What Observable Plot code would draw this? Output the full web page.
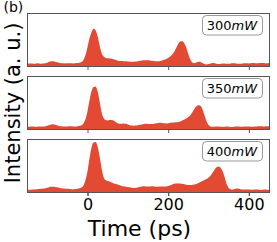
<!DOCTYPE html>
<html>
<head>
<meta charset="utf-8">
<script src="https://cdn.jsdelivr.net/npm/d3@7"></script>
<script src="https://cdn.jsdelivr.net/npm/@observablehq/plot@0.6"></script>
<style>
  html, body { margin: 0; padding: 0; background: white; }
  #chart { width: 277px; height: 242px; overflow: hidden; }
</style>
</head>
<body>
<div id="chart"></div>
<script>
// Sampling grid of the traces (ps)
const time = d3.range(-150, 451, 5);

// Panel labels (pump power, mW)
const powers = ["300", "350", "400"];

// Axis ticks
const xTicks = [0, 200, 400];

// Intensity traces (a. u.), one value per time sample
const trace300 = [
  2.5, 2.6, 2.4, 2.2, 2.3, 2.7, 2.6, 2.3, 2.4, 2.8,
  3.4, 4.2, 4.8, 4.9, 4.4, 3.7, 3.2, 2.9, 2.7, 2.6,
  2.8, 2.9, 2.7, 2.6, 2.8, 3.0, 3.3, 4.0, 6, 11,
  19, 28, 34, 37.5, 36, 30, 21, 13, 9.5, 8.2,
  7.8, 7.6, 7.4, 6.8, 6.0, 5.4, 5.1, 5.0, 4.9, 4.7,
  4.5, 4.4, 4.3, 4.4, 4.5, 4.8, 5.2, 5.6, 5.8, 5.9,
  5.8, 5.6, 5.3, 5.0, 4.8, 4.8, 5.1, 5.6, 6.2, 7,
  8, 9.5, 11.5, 14.5, 18.5, 22.5, 24.8, 25, 23, 18.5,
  12, 6.5, 3.5, 2.8, 3.5, 4.2, 4.0, 3.0, 2.0, 1.6,
  2.0, 2.6, 3.0, 2.8, 2.3, 2.0, 2.2, 2.6, 2.5, 2.2,
  2.3, 2.6, 2.9, 2.7, 2.4, 2.2, 2.3, 2.6, 2.8, 2.7,
  2.6, 2.8, 3.0, 2.9, 2.7, 2.8, 3.0, 3.1, 2.9, 2.8,
  3.0
];
const trace350 = [
  2.3, 2.2, 2.4, 2.5, 2.3, 2.2, 2.4, 2.6, 2.5, 2.7,
  3.2, 4.0, 4.6, 4.8, 4.3, 3.6, 3.0, 2.7, 2.6, 2.5,
  2.6, 2.8, 2.7, 2.5, 2.6, 2.9, 3.2, 3.8, 5.5, 10,
  18, 29, 38, 42.5, 43, 38, 28, 17, 11, 9,
  8.6, 9, 9.2, 8.5, 7, 5.8, 5.2, 5.4, 5.6, 5.2,
  4.5, 3.8, 3.5, 3.4, 3.5, 3.8, 4.2, 4.6, 5.0, 5.2,
  5.1, 5.0, 5.1, 5.4, 5.8, 6.1, 6.2, 6.0, 5.7, 5.6,
  5.8, 6.2, 6.5, 6.6, 6.7, 7.0, 7.6, 8.5, 9.5, 10.5,
  12, 14, 17, 20.5, 23, 24, 23.5, 20, 14, 8,
  4, 2.6, 2.2, 2.3, 2.5, 2.4, 2.2, 2.1, 2.3, 2.4,
  2.2, 2.0, 2.1, 2.3, 2.5, 2.4, 2.2, 2.3, 2.5, 2.6,
  2.5, 2.3, 2.2, 2.4, 2.6, 2.8, 2.7, 2.5, 2.6, 2.7,
  2.6
];
const trace400 = [
  2.0, 2.2, 2.3, 2.4, 2.6, 2.8, 3.0, 3.2, 3.5, 3.9,
  4.4, 4.9, 5.2, 5.3, 5.1, 4.7, 4.2, 3.8, 3.5, 3.3,
  3.2, 3.0, 2.9, 2.9, 3.1, 3.4, 3.8, 4.5, 6.5, 12,
  21, 34, 45, 50, 50.5, 46, 36, 24, 15, 12,
  11, 10.5, 9.5, 8.5, 8, 7.5, 6.8, 6, 5.6, 5.4,
  5.1, 4.7, 4.2, 4.0, 4.2, 4.6, 5.2, 5.6, 5.7, 5.6,
  5.5, 5.6, 5.7, 5.6, 5.4, 5.4, 5.5, 5.6, 5.5, 5.6,
  6.0, 6.8, 7.6, 8.3, 8.6, 8.7, 8.6, 8.3, 7.8, 7.3,
  7.0, 7.0, 7.2, 7.6, 8.2, 9.0, 10, 11, 12, 13,
  14.5, 16.5, 19.5, 22.5, 25, 25.7, 24.5, 21, 15, 8,
  4, 2.8, 2.6, 3.0, 3.5, 3.4, 2.8, 2.4, 2.5, 2.6,
  2.4, 2.2, 2.3, 2.5, 2.4, 2.2, 2.1, 2.3, 2.4, 2.3,
  2.2
];

const traces = [trace300, trace350, trace400];
const rows = [];
powers.forEach((p, k) => {
  traces[k].forEach((v, i) => rows.push({panel: p, t: time[i], v}));
});

const chart = Plot.plot({
  width: 277,
  height: 242,
  marginLeft: 27,
  marginRight: 8,
  marginTop: 12,
  marginBottom: 49,
  style: {fontFamily: "DejaVu Sans", fontSize: "16px", color: "black", background: "white"},
  x: {domain: [-150, 450]},
  y: {domain: [0, 53.5], axis: null},
  fy: {domain: powers, axis: null, paddingInner: 0.16, paddingOuter: 0},
  marks: [
    Plot.areaY(rows, {x: "t", y: "v", fy: "panel", fill: "#E24A33", curve: "monotone-x"}),
    Plot.frame({stroke: "#555"}),
    Plot.axisX({ticks: xTicks, tickSize: 4, tickFormat: () => "", label: null, facetAnchor: null, stroke: "#555"}),
    Plot.axisX({ticks: xTicks, tickSize: 4, tickPadding: 2, label: null, stroke: "#555", fontSize: 16}),
    // legend boxes
    Plot.frame({fill: "white", stroke: "#999", rx: 4, insetLeft: 175, insetRight: 7, insetTop: 2, insetBottom: 31.5}),
    Plot.text(powers, {fy: d => d, text: d => d, frameAnchor: "top-right", dx: -38, dy: 12.5,
      textAnchor: "end", lineAnchor: "middle", fontSize: 13}),
    Plot.text(powers, {fy: d => d, text: () => "mW", frameAnchor: "top-right", dx: -38, dy: 12.5,
      textAnchor: "start", lineAnchor: "middle", fontSize: 13, fontStyle: "italic"}),
    // axis titles
    Plot.text(["350"], {fy: d => d, text: () => "Intensity (a. u.)", frameAnchor: "left", dx: -14,
      rotate: -90, textAnchor: "middle", lineAnchor: "middle", fontSize: 21}),
    Plot.text(["400"], {fy: d => d, text: () => "Time (ps)", frameAnchor: "bottom", dx: -9, dy: 28,
      textAnchor: "middle", lineAnchor: "top", fontSize: 22}),
    Plot.text(["300"], {fy: d => d, text: () => "(b)", frameAnchor: "top-left", dx: -24, dy: -2,
      textAnchor: "start", lineAnchor: "bottom", fontSize: 14})
  ]
});
document.getElementById("chart").appendChild(chart);
</script>
</body>
</html>
